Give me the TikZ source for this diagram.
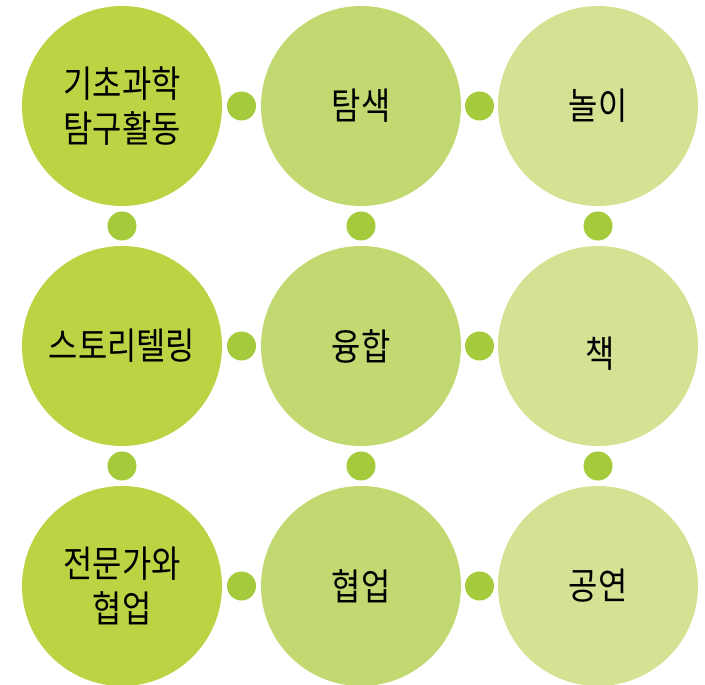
\documentclass[tikz,border=0pt]{standalone}
\usepackage{fontspec}
\usetikzlibrary{calc}
\newfontfamily\kr[FakeStretch=0.86]{Noto Sans CJK KR}
\definecolor{cA}{RGB}{186,212,68}
\definecolor{cB}{RGB}{194,216,112}
\definecolor{cC}{RGB}{212,226,148}
\definecolor{cDot}{RGB}{165,203,60}
\tikzset{
  bigc/.style={circle,minimum size=200pt,inner sep=0pt,draw=none,align=center,
    font=\kr\fontsize{37}{45}\selectfont,text=black},
  dotc/.style={circle,minimum size=29pt,inner sep=0pt,fill=cDot,draw=none},
}
\begin{document}
\begin{tikzpicture}[x=1pt,y=-1pt]
\useasboundingbox (0,0) rectangle (705,685);
% big circles
\node[bigc,fill=cA] (a1) at (122,106) {기초과학\\탐구활동};
\node[bigc,fill=cB] (b1) at (361,106) {탐색};
\node[bigc,fill=cC] (c1) at (598,106) {놀이};
\node[bigc,fill=cA] (a2) at (122,346) {스토리텔링};
\node[bigc,fill=cB] (b2) at (361,346) {융합};
\node[bigc,fill=cC] (c2) at (598,346) {};
\node[font=\kr\fontsize{37}{45}\selectfont] (c2t) at ([shift={(2,8)}]c2.center) {책};
\node[bigc,fill=cA] (a3) at (122,586) {전문가와\\협업};
\node[bigc,fill=cB] (b3) at (361,586) {협업};
\node[bigc,fill=cC] (c3) at (598,586) {공연};
% horizontal dots
\node[dotc] (h11) at ($(a1)!0.5!(b1)$) {};
\node[dotc] (h12) at ($(b1)!0.5!(c1)$) {};
\node[dotc] (h21) at ($(a2)!0.5!(b2)$) {};
\node[dotc] (h22) at ($(b2)!0.5!(c2)$) {};
\node[dotc] (h31) at ($(a3)!0.5!(b3)$) {};
\node[dotc] (h32) at ($(b3)!0.5!(c3)$) {};
% vertical dots
\node[dotc] (v11) at ($(a1)!0.5!(a2)$) {};
\node[dotc] (v12) at ($(a2)!0.5!(a3)$) {};
\node[dotc] (v21) at ($(b1)!0.5!(b2)$) {};
\node[dotc] (v22) at ($(b2)!0.5!(b3)$) {};
\node[dotc] (v31) at ($(c1)!0.5!(c2)$) {};
\node[dotc] (v32) at ($(c2)!0.5!(c3)$) {};
\end{tikzpicture}
\end{document}
